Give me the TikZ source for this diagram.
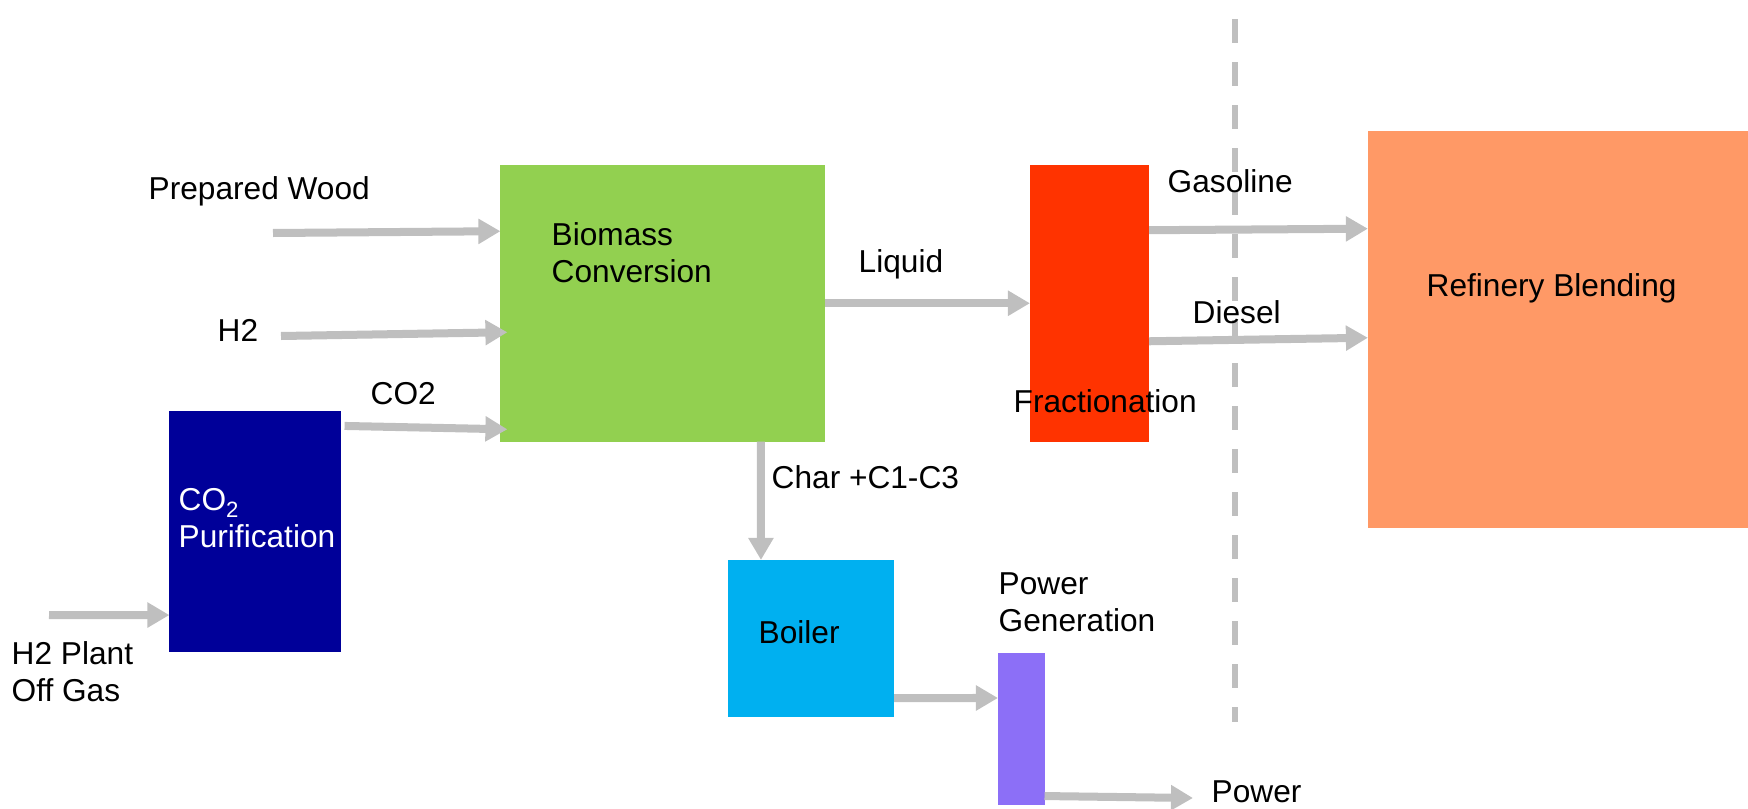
\documentclass[tikz,border=0pt]{standalone}
\usepackage{fontspec}
\setmainfont{Liberation Sans}
\usetikzlibrary{arrows.meta}

\definecolor{flowgray}{HTML}{BFBFBF}
\definecolor{biogreen}{HTML}{92D050}
\definecolor{purblue}{HTML}{000099}
\definecolor{fracred}{HTML}{FF3300}
\definecolor{reforange}{HTML}{FF9966}
\definecolor{boilcyan}{HTML}{00B0F0}
\definecolor{genpurple}{HTML}{8C6FF7}

\newcommand{\subtwo}{\raisebox{-0.22em}{\fontsize{6.3}{7}\selectfont 2}}

\tikzset{
  unit/.style={draw=none,inner sep=0pt,outer sep=0pt},
  flow/.style={flowgray,line width=0.08cm,-{Triangle[length=0.22cm,width=0.24cm]}},
  lbl/.style={inner sep=0pt,anchor=base west,font=\fontsize{9}{10.4}\selectfont},
}

\begin{document}
\begin{tikzpicture}[x=0.01cm,y=-0.01cm]
  \useasboundingbox (0,0) rectangle (1748,809);
  % process units
  \node[unit,fill=purblue,minimum width=1.715cm,minimum height=2.41cm] (pur) at (255.25,531.5) {};
  \node[unit,fill=biogreen,minimum width=3.245cm,minimum height=2.765cm] (bio) at (662.75,303.25) {};
  \node[unit,fill=fracred,minimum width=1.19cm,minimum height=2.765cm] (frac) at (1089.5,303.25) {};
  \node[unit,fill=reforange,minimum width=3.8cm,minimum height=3.965cm] (ref) at (1558,329.75) {};
  \node[unit,fill=boilcyan,minimum width=1.66cm,minimum height=1.57cm] (boil) at (811,638.5) {};
  \node[unit,fill=genpurple,minimum width=0.465cm,minimum height=1.52cm] (pg) at (1021.25,729) {};
  % battery limit
  \coordinate (dtop) at (1235,0);
  \coordinate (dbot) at (1235,722);
  \draw[flowgray,line width=0.06cm,dash pattern=on 0.24cm off 0.19cm,dash phase=0.24cm] (dtop) -- (dbot);
  % streams
  \coordinate (woodin) at (273,233);
  \coordinate (h2in) at (281,336);
  \coordinate (offin) at (49,615);
  \coordinate (powout) at (1193,798);
  \draw[flow] (woodin) -- ([yshift=0.72cm]bio.west);
  \draw[flow] (h2in) -- ([xshift=0.07cm,yshift=-0.29cm]bio.west);
  \draw[flow] ([xshift=0.035cm,yshift=-0.15cm]pur.north east) -- ([xshift=0.07cm,yshift=-1.26cm]bio.west);
  \draw[flow] (offin) -- ([yshift=-0.835cm]pur.west);
  \draw[flow] (bio.east) -- (frac.west);
  \draw[flow] ([yshift=0.73cm]frac.east) -- ([yshift=1.01cm]ref.west);
  \draw[flow] ([yshift=-0.38cm]frac.east) -- ([yshift=-0.08cm]ref.west);
  \draw[flow] ([xshift=0.98cm]bio.south) -- ([xshift=-0.5cm]boil.north);
  \draw[flow] ([yshift=-0.595cm]boil.east) -- ([yshift=0.31cm]pg.west);
  \draw[flow] ([yshift=-0.67cm]pg.east) -- (powout);
  % labels (multi-line ones sit on their last line)
  \node[lbl] (woodtxt) at (148,199) {Prepared Wood};
  \node[lbl] (h2txt) at (217,341) {H2};
  \node[lbl] (co2txt) at (370,404) {CO2};
  \node[lbl,align=left,text=white] (purtxt) at (178,547) {CO\subtwo\\Purification};
  \node[lbl,align=left] (offtxt) at (11,701) {H2 Plant\\Off Gas};
  \node[lbl,align=left] (biotxt) at (551,282) {Biomass\\Conversion};
  \node[lbl] (liqtxt) at (858,272) {Liquid};
  \node[lbl] (fractxt) at (1013,412) {Fractionation};
  \node[lbl] (gastxt) at (1167,192) {Gasoline};
  \node[lbl] (dieseltxt) at (1192,323) {Diesel};
  \node[lbl] (reftxt) at (1426,296) {Refinery Blending};
  \node[lbl] (chartxt) at (771,488) {Char +C1-C3};
  \node[lbl] (boiltxt) at (758,643) {Boiler};
  \node[lbl,align=left] (pgtxt) at (998,631) {Power\\Generation};
  \node[lbl] (powtxt) at (1211,802) {Power};
\end{tikzpicture}
\end{document}
